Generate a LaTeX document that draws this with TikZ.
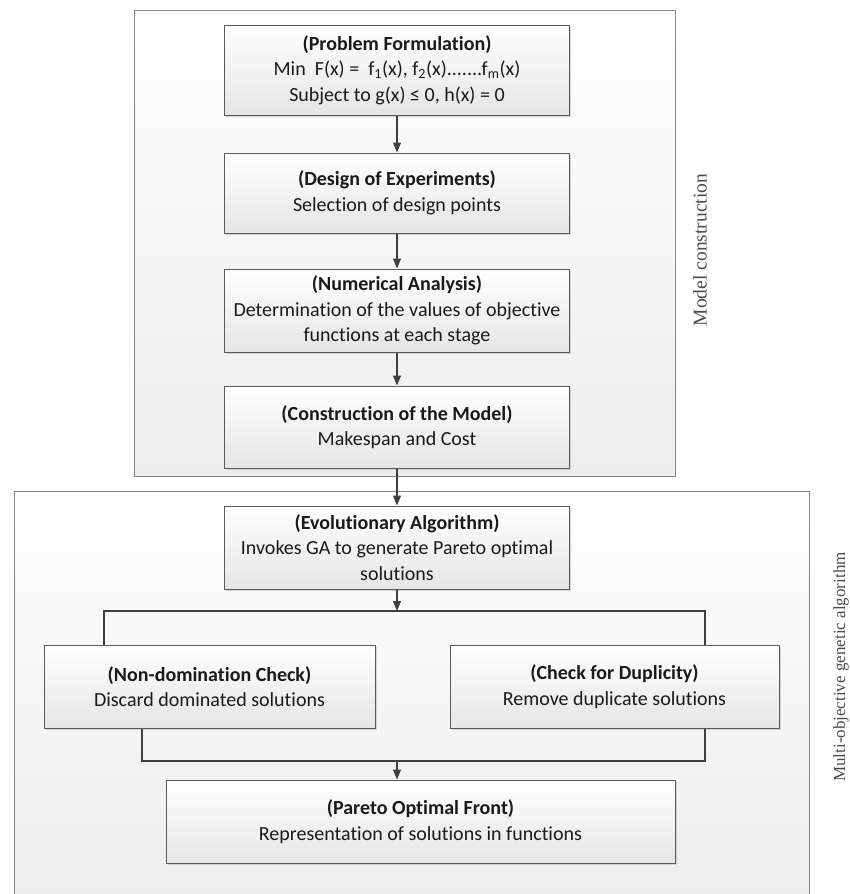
\documentclass[tikz,border=0pt]{standalone}
\usepackage{fontspec}
\setmainfont{Carlito}[Ligatures=NoCommon]
\newfontfamily\labelfont{Liberation Serif}
\usetikzlibrary{arrows.meta,shadows}

\definecolor{edgegray}{HTML}{5A5A5A}
\definecolor{arrowgray}{HTML}{404040}
\definecolor{framegray}{HTML}{858585}
\definecolor{inkgray}{HTML}{1A1A1A}

\tikzset{
  stagebox/.style={draw=edgegray, line width=1pt,
    top color=white, bottom color=black!10,
    drop shadow={shadow xshift=1.5pt, shadow yshift=-1.5pt, fill=black!30, opacity=0.5},
    align=center, inner sep=2pt, text=inkgray,
    font=\fontsize{20}{25.5}\selectfont},
  flow/.style={draw=arrowgray, line width=1.2pt, -{Triangle[length=10pt,width=8pt]}},
  link/.style={draw=arrowgray, line width=1.2pt},
  panel/.style={top color=white, bottom color=black!7},
  panelframe/.style={draw=framegray, line width=1pt},
  sidelabel/.style={rotate=90, text=black!70}
}

\begin{document}
\begin{tikzpicture}[x=1pt,y=-1pt]
\useasboundingbox (0,0) rectangle (849,894);

% upper panel: model construction
\path[panel] (134,10) rectangle (675,476);
\draw[panelframe] (134,10) rectangle (675,476);

% lower panel: genetic algorithm (runs past the page bottom)
\path[panel] (14,491) rectangle (809,900);
\draw[panelframe] (14,900) |- (809,491) -- (809,900);

% stages
\node[stagebox, minimum width=345pt, minimum height=90pt] (prob) at (397,70)
  {\textbf{(Problem Formulation)}\\
   Min\ \ F(x) =\ \ f\textsubscript{1}(x), f\textsubscript{2}(x).......f\textsubscript{m}(x)\\
   Subject to g(x) ≤ 0, h(x) = 0};
\node[stagebox, minimum width=345pt, minimum height=80pt] (doe) at (397,193)
  {\textbf{(Design of Experiments)}\\Selection of design points};
\node[stagebox, minimum width=345pt, minimum height=83pt] (num) at (397,310.5)
  {\textbf{(Numerical Analysis)}\\Determination of the values of objective\\functions at each stage};
\node[stagebox, minimum width=345pt, minimum height=82pt] (cons) at (397,427)
  {\textbf{(Construction of the Model)}\\Makespan and Cost};
\node[stagebox, minimum width=345pt, minimum height=83pt] (evo) at (397,547.5)
  {\textbf{(Evolutionary Algorithm)}\\Invokes GA to generate Pareto optimal\\solutions};
\node[stagebox, minimum width=331pt, minimum height=83pt] (nondom) at (209.5,686.5)
  {\textbf{(Non-domination Check)}\\Discard dominated solutions};
\node[stagebox, minimum width=329pt, minimum height=83pt] (dup) at (614.5,686.5)
  {\textbf{(Check for Duplicity)}\\Remove duplicate solutions};
\node[stagebox, minimum width=509pt, minimum height=83pt] (pareto) at (420.5,821.5)
  {\textbf{(Pareto Optimal Front)}\\Representation of solutions in functions};

% split and merge rails
\coordinate (splitL) at (104,611);
\coordinate (splitR) at (705,611);
\coordinate (splitM) at (397,611);
\coordinate (mergeL) at (142,761);
\coordinate (mergeR) at (705,761);
\coordinate (mergeM) at (397,761);

% connectors
\draw[flow] (prob) -- (doe);
\draw[flow] (doe) -- (num);
\draw[flow] (num) -- (cons);
\draw[flow] (cons) -- (evo);
\draw[flow] (evo) -- (splitM);
\draw[link] (nondom.north -| splitL) |- (splitR) -- (dup.north -| splitR);
\draw[link] (nondom.south -| mergeL) |- (mergeR) -- (dup.south -| mergeR);
\draw[flow] (mergeM) -- (mergeM |- pareto.north);

% panel captions
\node[sidelabel, font=\labelfont\fontsize{19.5}{20}\selectfont] (mclabel) at (700,250) {Model construction};
\node[sidelabel, font=\labelfont\fontsize{17}{18}\selectfont] (galabel) at (841,667) {Multi-objective genetic algorithm};
\end{tikzpicture}
\end{document}
